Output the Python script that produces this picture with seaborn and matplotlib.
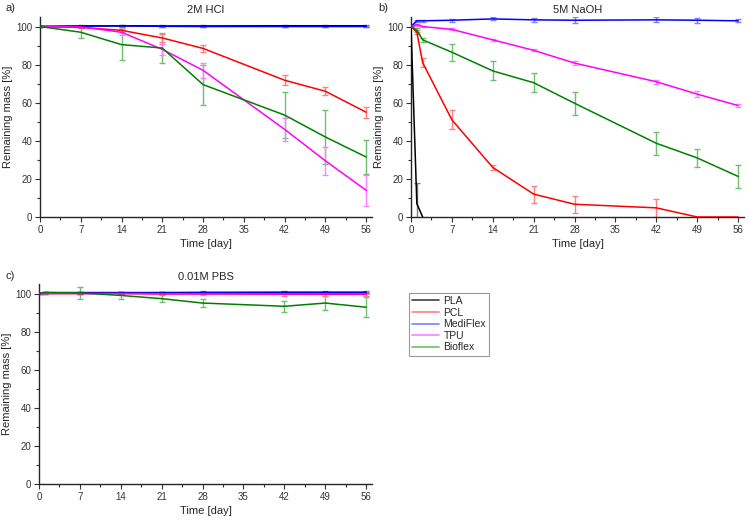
import numpy as np
import pandas as pd
import matplotlib
matplotlib.use("Agg")
import matplotlib.pyplot as plt
import seaborn as sns
from matplotlib.ticker import MultipleLocator

materials = ['PLA', 'PCL', 'MediFlex', 'TPU', 'Bioflex']
colors = {'PLA': '#000000', 'PCL': '#ff0000', 'MediFlex': '#0000ff',
          'TPU': '#ff00ff', 'Bioflex': '#008000'}
err_colors = {'PLA': '#808080', 'PCL': '#ff8080', 'MediFlex': '#8080ff',
              'TPU': '#ff80ff', 'Bioflex': '#70c070'}

# a) 2M HCl
days_hcl = [0, 7, 14, 21, 28, 42, 49, 56]
hcl_pla = [100, 100.3, 100.4, 100.3, 100.3, 100.4, 100.4, 100.4]
hcl_pla_err = [0.3, 0.4, 0.4, 0.4, 0.4, 0.4, 0.4, 0.4]
hcl_pcl = [100, 99.5, 98, 94, 88.5, 71.8, 66, 55]
hcl_pcl_err = [0.3, 0.5, 0.8, 2, 2, 2.5, 2, 2.8]
hcl_medi = [100, 100.2, 100.3, 100.1, 100, 100, 100, 100]
hcl_medi_err = [0.3, 0.3, 0.3, 0.3, 0.3, 0.3, 0.3, 0.3]
hcl_tpu = [100, 99.8, 97, 88, 77, 46, 29.5, 14]
hcl_tpu_err = [0.3, 0.5, 1.5, 3, 4, 6, 7.5, 8]
hcl_bio = [100, 97, 90.5, 88.7, 69.5, 53.5, 42, 31.5]
hcl_bio_err = [0.5, 3, 8, 8, 10.5, 12, 14, 9]

# b) 5M NaOH
days_naoh = [0, 1, 2, 7, 14, 21, 28, 42, 49, 56]
days_naoh_pla = [0, 1, 2]
naoh_pla = [100, 7, 0]
naoh_pla_err = [0, 11, 0]
naoh_pcl = [100, 97, 81, 51, 26, 12, 6.7, 4.8, 0, 0]
naoh_pcl_err = [0.3, 1, 2.5, 5, 1.5, 4.5, 4.5, 4.8, 0, 0]
naoh_medi = [100, 103, 103, 103.3, 104, 103.5, 103.3, 103.5, 103.3, 103]
naoh_medi_err = [0.3, 0.5, 0.5, 0.8, 0.8, 1, 1.5, 1.3, 1.2, 0.8]
naoh_tpu = [100, 101, 100, 98.5, 93, 87.5, 80.8, 71, 64.5, 58.5]
naoh_tpu_err = [0.3, 0.5, 0.5, 0.5, 0.5, 0.5, 1, 1, 1.5, 0.8]
naoh_bio = [100, 98, 93, 86.5, 76.7, 70.5, 59.7, 38.7, 31, 21.3]
naoh_bio_err = [0.3, 1, 1, 4.5, 5, 5, 6, 6, 4.5, 6]

# c) 0.01M PBS
days_pbs = [0, 1, 7, 14, 21, 28, 42, 49, 56]
pbs_pla = [100, 100.5, 100.5, 100.5, 100.5, 100.6, 100.7, 100.7, 100.7]
pbs_pla_err = [0.3, 0.3, 0.5, 0.5, 0.5, 0.5, 0.5, 0.5, 0.5]
pbs_pcl = [100, 100, 100, 100, 99.8, 99.8, 99.7, 99.6, 99.6]
pbs_pcl_err = [0.3, 0.3, 0.5, 0.5, 0.8, 0.8, 0.8, 0.8, 0.8]
pbs_medi = [100, 100.3, 100.3, 100.3, 100.3, 100.4, 100.4, 100.4, 100.4]
pbs_medi_err = [0.3, 0.3, 0.3, 0.3, 0.3, 0.3, 0.3, 0.3, 0.3]
pbs_tpu = [100, 100, 100, 100, 99.9, 99.9, 99.8, 99.8, 99.8]
pbs_tpu_err = [0.3, 0.3, 0.3, 0.3, 0.3, 0.3, 0.3, 0.3, 0.3]
pbs_bio = [100, 100.5, 100.3, 99, 97.3, 95, 93.3, 95, 92.8]
pbs_bio_err = [0.3, 0.5, 3, 2, 2, 2, 3, 3.5, 5.3]


def long_table(series):
    rows = []
    for name, (x, y, e) in series.items():
        for xi, yi, ei in zip(x, y, e):
            rows.append({'day': xi, 'mass': yi, 'err': ei, 'material': name})
    return pd.DataFrame(rows)


hcl = long_table({
    'PLA': (days_hcl, hcl_pla, hcl_pla_err),
    'PCL': (days_hcl, hcl_pcl, hcl_pcl_err),
    'MediFlex': (days_hcl, hcl_medi, hcl_medi_err),
    'TPU': (days_hcl, hcl_tpu, hcl_tpu_err),
    'Bioflex': (days_hcl, hcl_bio, hcl_bio_err),
})
naoh = long_table({
    'PLA': (days_naoh_pla, naoh_pla, naoh_pla_err),
    'PCL': (days_naoh, naoh_pcl, naoh_pcl_err),
    'MediFlex': (days_naoh, naoh_medi, naoh_medi_err),
    'TPU': (days_naoh, naoh_tpu, naoh_tpu_err),
    'Bioflex': (days_naoh, naoh_bio, naoh_bio_err),
})
pbs = long_table({
    'PLA': (days_pbs, pbs_pla, pbs_pla_err),
    'PCL': (days_pbs, pbs_pcl, pbs_pcl_err),
    'MediFlex': (days_pbs, pbs_medi, pbs_medi_err),
    'TPU': (days_pbs, pbs_tpu, pbs_tpu_err),
    'Bioflex': (days_pbs, pbs_bio, pbs_bio_err),
})

sns.set_style('ticks')
plt.rcParams['font.family'] = ['Liberation Sans', 'DejaVu Sans']
plt.rcParams['axes.linewidth'] = 1.0

W, H = 749, 524
fig = plt.figure(figsize=(W / 100, H / 100), dpi=100)
ax_a = fig.add_axes([40 / W, 1 - 217 / H, 332 / W, 200 / H])
ax_b = fig.add_axes([411 / W, 1 - 217 / H, 333 / W, 200 / H])
ax_c = fig.add_axes([39 / W, 1 - 484 / H, 333 / W, 200 / H])


def draw_panel(ax, df, title):
    # error bars first, lighter, then the lines on top
    for name in ['Bioflex', 'TPU', 'PCL', 'MediFlex', 'PLA']:
        sub = df[(df['material'] == name) & (df['err'] > 0)]
        ax.errorbar(sub['day'], sub['mass'], yerr=sub['err'], fmt='none',
                    ecolor=err_colors[name], elinewidth=1, capsize=2.2,
                    capthick=1, zorder=2)
    sns.lineplot(data=df, x='day', y='mass', hue='material',
                 hue_order=materials, palette=colors, linewidth=1.1,
                 sort=False, estimator=None, ax=ax, legend=False, zorder=3)
    ax.set_xlim(0, 57)
    ax.set_ylim(0, 105)
    ax.xaxis.set_major_locator(MultipleLocator(7))
    ax.xaxis.set_minor_locator(MultipleLocator(3.5))
    ax.yaxis.set_major_locator(MultipleLocator(20))
    ax.yaxis.set_minor_locator(MultipleLocator(10))
    ax.tick_params(which='major', direction='out', length=3.5, width=0.8,
                   labelsize=7, pad=2, color='#333333', labelcolor='#333333')
    ax.tick_params(which='minor', direction='out', length=2, width=0.8,
                   color='#333333')
    ax.set_xlabel('Time [day]', fontsize=8, labelpad=3)
    ax.set_ylabel('Remaining mass [%]', fontsize=8, labelpad=2)
    ax.set_title(title, fontsize=8, pad=3)
    sns.despine(ax=ax)


draw_panel(ax_a, hcl, '2M HCl')
draw_panel(ax_b, naoh, '5M NaOH')
draw_panel(ax_c, pbs, '0.01M PBS')

fig.text(5 / W, 1 - 8 / H, 'a)', fontsize=8, ha='left', va='center')
fig.text(378 / W, 1 - 8 / H, 'b)', fontsize=8, ha='left', va='center')
fig.text(5 / W, 1 - 276 / H, 'c)', fontsize=8, ha='left', va='center')

handles = [plt.Line2D([], [], color=err_colors[m] if m != 'PLA' else '#404040',
                      linewidth=1.2) for m in materials]
leg = fig.legend(handles, materials, loc='upper left',
                 bbox_to_anchor=(409 / W, 1 - 293 / H), fontsize=7.5,
                 frameon=True, fancybox=False, edgecolor='#808080',
                 handlelength=2.6, handletextpad=0.4, labelspacing=0.15,
                 borderpad=0.3, borderaxespad=0)
leg.get_frame().set_linewidth(0.8)

fig.savefig('out.png', dpi=100)
